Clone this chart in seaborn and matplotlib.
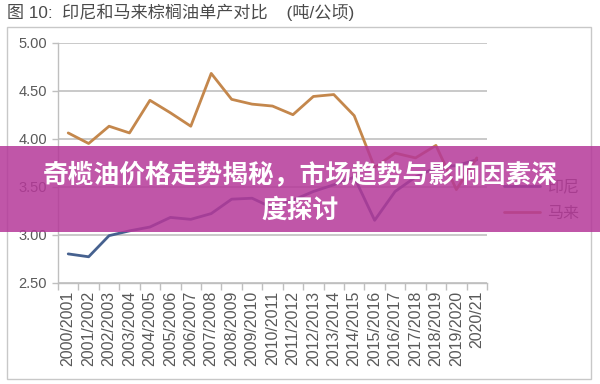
import matplotlib
matplotlib.use("Agg")
import matplotlib.pyplot as plt
from matplotlib.patches import Rectangle
from matplotlib.lines import Line2D
import seaborn as sns
import pandas as pd
import numpy as np

seasons = ["2000/2001", "2001/2002", "2002/2003", "2003/2004", "2004/2005",
           "2005/2006", "2006/2007", "2007/2008", "2008/2009", "2009/2010",
           "2010/2011", "2011/2012", "2012/2013", "2013/2014", "2014/2015",
           "2015/2016", "2016/2017", "2017/2018", "2018/2019", "2019/2020",
           "2020/21"]
indonesia = [2.80, 2.77, 2.99, 3.04, 3.08, 3.18, 3.16, 3.22, 3.37, 3.38, 3.28,
             3.36, 3.45, 3.52, 3.60, 3.15, 3.45, 3.60, 3.70, 3.72, 3.78]
malaysia = [4.06, 3.95, 4.13, 4.06, 4.40, 4.27, 4.13, 4.68, 4.41, 4.36, 4.34,
            4.25, 4.44, 4.46, 4.24, 3.70, 3.85, 3.80, 3.93, 3.47, 3.80]
series_names = ["印尼", "马来"]
y_ticks = [2.5, 3.0, 3.5, 4.0, 4.5, 5.0]

sns.set_style("white")
plt.rcParams["font.family"] = ["Liberation Sans", "Noto Sans CJK SC", "DejaVu Sans"]

df = pd.DataFrame({
    "pos": list(range(len(seasons))) * 2,
    "value": indonesia + malaysia,
    "series": [series_names[0]] * len(seasons) + [series_names[1]] * len(seasons),
})
colors = {"印尼": "#46618f", "马来": "#c4874c"}

fig = plt.figure(figsize=(6, 3.84), dpi=100)
ax = fig.add_axes([58 / 600, 1 - 282.7 / 384, 429 / 600, 240 / 384])
sns.lineplot(data=df, x="pos", y="value", hue="series", palette=colors,
             linewidth=2, legend=False, ax=ax)

ax.set_xlim(-0.5, len(seasons) - 0.5)
ax.set_ylim(2.5, 5.0)
ax.set_yticks(y_ticks)
ax.set_yticklabels(["{:.2f}".format(v) for v in y_ticks], fontsize=10.5, color="#595959")
ax.set_xticks(range(len(seasons)))
ax.set_xticklabels(seasons, rotation=90, fontsize=11.5, color="#595959")
ax.set_xticks(np.arange(-0.5, len(seasons)), minor=True)
ax.tick_params(axis="x", which="major", length=0, pad=6)
ax.tick_params(axis="x", which="minor", length=5, color="#bfbfbf", width=1, bottom=True)
ax.tick_params(axis="y", length=4, color="#bfbfbf", width=1, left=True, pad=4)
ax.set_xlabel("")
ax.set_ylabel("")
ax.grid(axis="y", color="#c0c0c0", linewidth=1.2)
ax.set_axisbelow(True)
for side in ["top", "right"]:
    ax.spines[side].set_visible(False)
for side in ["left", "bottom"]:
    ax.spines[side].set_color("#bfbfbf")
    ax.spines[side].set_linewidth(1)

handles = [Line2D([], [], color=colors[n], linewidth=2) for n in series_names]
fig.legend(handles, series_names, loc="center left", bbox_to_anchor=(490 / 600, 1 - 200 / 384),
           frameon=False, fontsize=11.5, handlelength=2.2, labelspacing=0.7,
           handletextpad=0.5, labelcolor="#595959")

fig.add_artist(Rectangle((7 / 600, 1 - 379 / 384), 584 / 600, 352 / 384,
                         transform=fig.transFigure, fill=False, ec="#c8c8c8", lw=1))
fig.text(7 / 600, 1 - 12 / 384, "图 10:  印尼和马来棕榈油单产对比    (吨/公顷)",
         fontsize=12.3, color="#4a4a4a", va="center", ha="left")

# overlay banner
fig.add_artist(Rectangle((0, 1 - 232 / 384), 1, 86 / 384, transform=fig.transFigure,
                         facecolor="#b53899", alpha=0.85, edgecolor="none", zorder=10))
fig.text(0.5, 1 - 175 / 384, "奇榄油价格走势揭秘，市场趋势与影响因素深", fontsize=18.5,
         fontweight="bold", color="white", ha="center", va="center", zorder=11,
         family=["Noto Sans CJK SC", "DejaVu Sans"])
fig.text(0.5, 1 - 210 / 384, "度探讨", fontsize=18.5, fontweight="bold", color="white",
         ha="center", va="center", zorder=11, family=["Noto Sans CJK SC", "DejaVu Sans"])

fig.savefig("out.png", dpi=100)
